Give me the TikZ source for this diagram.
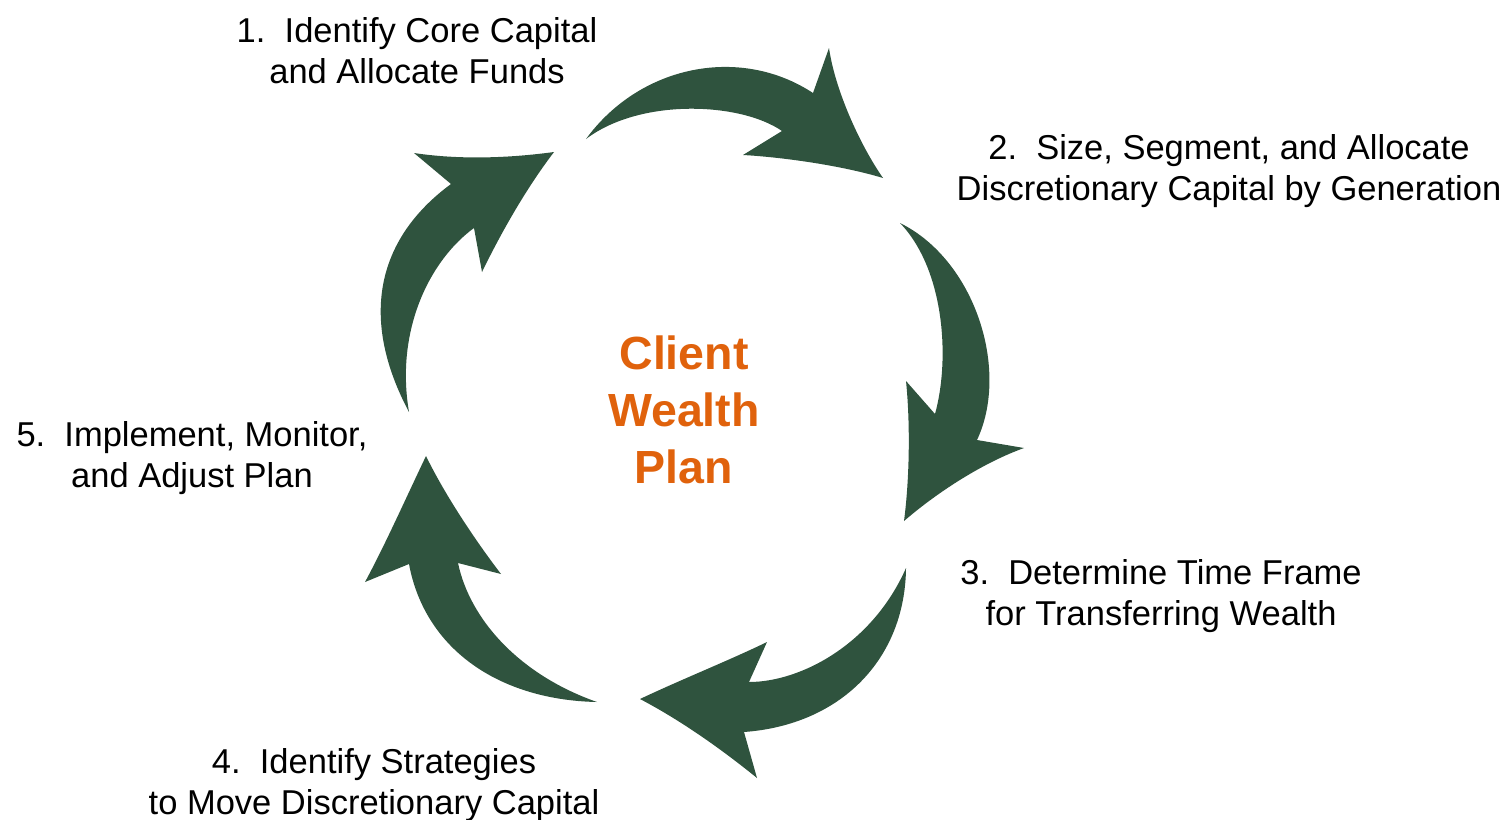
\documentclass[tikz,border=0pt]{standalone}
\usepackage{fontspec}
\setmainfont{Liberation Sans}
\definecolor{wealthgreen}{RGB}{47,83,62}
\definecolor{wealthorange}{RGB}{224,98,12}
\tikzstyle{cyclearrow}=[fill=wealthgreen]
\tikzstyle{steptext}=[font=\fontsize{17.25}{20.25}\selectfont, align=center, inner sep=0, anchor=base]
\newcommand{\steplabel}[3]{\node[steptext] (#1) at (#2) {#3};}

\begin{document}
\begin{tikzpicture}[x=0.5pt, y=-0.5pt]
\useasboundingbox (0,0) rectangle (1507,819);

\fill[cyclearrow] (586,139) .. controls (640,65) and (740,45) .. (813,93) -- (829,48)
  .. controls (835,90) and (860,145) .. (883,178) .. controls (840,165) and (780,157) .. (743,155)
  -- (782,131) .. controls (740,102) and (640,98) .. (586,139) -- cycle;

\fill[cyclearrow] (900,223) .. controls (975,260) and (1010,370) .. (977,440) -- (1024,448)
  .. controls (985,462) and (940,490) .. (904,521) .. controls (910,475) and (910,420) .. (906,381)
  -- (935,414) .. controls (950,360) and (945,270) .. (900,223) -- cycle;

\fill[cyclearrow] (906,568) .. controls (905,660) and (840,725) .. (744,732) -- (757,778)
  .. controls (720,748) and (680,720) .. (640,699) .. controls (680,680) and (730,660) .. (767,642)
  -- (749,682) .. controls (800,682) and (872,645) .. (906,568) -- cycle;

\fill[cyclearrow] (597,702) .. controls (500,700) and (425,650) .. (409,564) -- (365,582)
  .. controls (385,545) and (405,500) .. (426,456) .. controls (445,495) and (475,540) .. (501,574)
  -- (458,563) .. controls (470,620) and (520,675) .. (597,702) -- cycle;

\fill[cyclearrow] (409,412) .. controls (360,320) and (375,240) .. (451,184) -- (414,153)
  .. controls (460,160) and (510,158) .. (554,152) .. controls (525,190) and (500,235) .. (482,272)
  -- (474,228) .. controls (430,260) and (395,330) .. (409,412) -- cycle;

\node[font=\fontsize{23.25}{28.5}\selectfont\bfseries, text=wealthorange, align=center, inner sep=0, anchor=base] (plan) at (684,483) {Client\\Wealth\\Plan};

\steplabel{s1}{417,83}{1.~~Identify Core Capital\\and Allocate Funds}
\steplabel{s2}{1229,200}{2.~~Size, Segment, and Allocate\\Discretionary Capital by Generation}
\steplabel{s3}{1161,625}{3.~~Determine Time Frame\\for Transferring Wealth}
\steplabel{s4}{374,814}{4.~~Identify Strategies\\to Move Discretionary Capital}
\steplabel{s5}{192,487}{5.~~Implement, Monitor,\\and Adjust Plan}
\end{tikzpicture}
\end{document}
